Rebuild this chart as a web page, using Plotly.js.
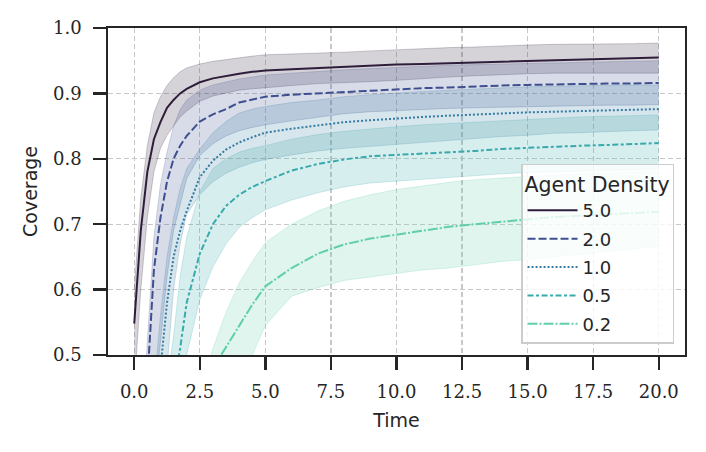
<!DOCTYPE html>
<html>
<head>
<meta charset="utf-8">
<script src="https://cdn.plot.ly/plotly-3.0.1.min.js"></script>
<style>
  html, body { margin: 0; padding: 0; background: #fff; }
  #graph { width: 706px; height: 452px; }
</style>
</head>
<body>
<div id="graph"></div>
<script>
// coverage over time, mean line with a spread band per agent density
const time = [0, 0.25, 0.5, 0.75, 1, 1.25, 1.5, 1.75, 2, 2.5, 3, 3.5, 4, 4.5, 5,
              6, 7, 8, 9, 10, 11, 12, 13, 14, 15, 16, 17, 18, 19, 20];

const densities = ['5.0', '2.0', '1.0', '0.5', '0.2'];

const mean50 = [0.548, 0.69, 0.78, 0.83, 0.856, 0.878, 0.89, 0.90, 0.907, 0.917, 0.923, 0.927, 0.930, 0.933, 0.935,
                0.937, 0.939, 0.941, 0.942, 0.944, 0.945, 0.946, 0.947, 0.948, 0.950, 0.951, 0.951, 0.952, 0.953, 0.955];
const hi50 = [0.60, 0.74, 0.82, 0.87, 0.895, 0.912, 0.924, 0.933, 0.939, 0.945, 0.949, 0.952, 0.955, 0.957, 0.959,
              0.960, 0.961, 0.963, 0.965, 0.967, 0.968, 0.970, 0.971, 0.973, 0.974, 0.975, 0.975, 0.976, 0.976, 0.977];
const lo50 = [0.45, 0.60, 0.71, 0.78, 0.816, 0.836, 0.85, 0.864, 0.873, 0.888, 0.896, 0.901, 0.905, 0.907, 0.909,
              0.912, 0.915, 0.916, 0.918, 0.920, 0.923, 0.925, 0.927, 0.929, 0.930, 0.931, 0.931, 0.931, 0.931, 0.931];

const mean20 = [0.20, 0.30, 0.46, 0.63, 0.71, 0.765, 0.80, 0.82, 0.835, 0.857, 0.868, 0.876, 0.886, 0.891, 0.895,
                0.898, 0.900, 0.903, 0.904, 0.906, 0.908, 0.909, 0.911, 0.912, 0.913, 0.914, 0.914, 0.915, 0.915, 0.916];
const hi20 = [0.25, 0.35, 0.52, 0.68, 0.76, 0.81, 0.85, 0.875, 0.89, 0.905, 0.913, 0.918, 0.922, 0.925, 0.928,
              0.931, 0.934, 0.936, 0.938, 0.940, 0.942, 0.943, 0.944, 0.945, 0.946, 0.947, 0.947, 0.948, 0.949, 0.950];
const lo20 = [0.10, 0.20, 0.30, 0.42, 0.52, 0.62, 0.69, 0.73, 0.77, 0.805, 0.823, 0.835, 0.843, 0.848, 0.852,
              0.858, 0.864, 0.869, 0.872, 0.874, 0.876, 0.877, 0.878, 0.879, 0.880, 0.881, 0.881, 0.882, 0.882, 0.883];

const mean10 = [0.10, 0.15, 0.20, 0.30, 0.48, 0.58, 0.65, 0.69, 0.72, 0.772, 0.797, 0.814, 0.825, 0.833, 0.840,
                0.846, 0.851, 0.856, 0.859, 0.862, 0.864, 0.866, 0.868, 0.869, 0.871, 0.872, 0.873, 0.874, 0.875, 0.876];
const hi10 = [0.15, 0.20, 0.30, 0.45, 0.56, 0.65, 0.71, 0.755, 0.785, 0.815, 0.84, 0.857, 0.870, 0.876, 0.880,
              0.886, 0.890, 0.895, 0.898, 0.901, 0.903, 0.905, 0.907, 0.908, 0.910, 0.911, 0.912, 0.912, 0.913, 0.913];
const lo10 = [0.05, 0.10, 0.15, 0.25, 0.38, 0.48, 0.60, 0.67, 0.715, 0.745, 0.765, 0.778, 0.787, 0.794, 0.799,
              0.806, 0.812, 0.816, 0.819, 0.823, 0.826, 0.829, 0.831, 0.834, 0.836, 0.839, 0.840, 0.842, 0.843, 0.844];

const mean05 = [0.05, 0.08, 0.12, 0.20, 0.30, 0.38, 0.45, 0.51, 0.58, 0.655, 0.70, 0.728, 0.745, 0.757, 0.766,
                0.782, 0.792, 0.799, 0.804, 0.806, 0.807, 0.809, 0.812, 0.815, 0.817, 0.819, 0.820, 0.821, 0.822, 0.824];
const hi05 = [0.10, 0.12, 0.18, 0.25, 0.35, 0.45, 0.53, 0.62, 0.68, 0.75, 0.785, 0.80, 0.81, 0.816, 0.82,
              0.83, 0.837, 0.842, 0.846, 0.849, 0.852, 0.854, 0.856, 0.858, 0.861, 0.863, 0.864, 0.865, 0.866, 0.867];
const lo05 = [0.02, 0.04, 0.08, 0.15, 0.22, 0.30, 0.37, 0.42, 0.50, 0.585, 0.635, 0.67, 0.695, 0.71, 0.722,
              0.737, 0.748, 0.757, 0.763, 0.766, 0.769, 0.772, 0.774, 0.777, 0.779, 0.780, 0.781, 0.782, 0.783, 0.784];

const mean02 = [0.30, 0.31, 0.32, 0.33, 0.34, 0.35, 0.36, 0.37, 0.40, 0.44, 0.48, 0.512, 0.545, 0.577, 0.605,
                0.633, 0.655, 0.669, 0.678, 0.684, 0.690, 0.696, 0.700, 0.704, 0.708, 0.711, 0.713, 0.715, 0.717, 0.719];
const hi02 = [0.30, 0.31, 0.32, 0.33, 0.34, 0.35, 0.36, 0.38, 0.40, 0.45, 0.51, 0.565, 0.61, 0.643, 0.672,
              0.70, 0.72, 0.735, 0.745, 0.753, 0.759, 0.764, 0.768, 0.771, 0.773, 0.775, 0.777, 0.778, 0.780, 0.781];
const lo02 = [0.20, 0.21, 0.22, 0.23, 0.24, 0.25, 0.26, 0.27, 0.28, 0.32, 0.36, 0.40, 0.44, 0.50, 0.545,
              0.59, 0.603, 0.614, 0.619, 0.625, 0.630, 0.633, 0.638, 0.643, 0.646, 0.650, 0.654, 0.658, 0.662, 0.666];

const means = [mean50, mean20, mean10, mean05, mean02];
const highs = [hi50, hi20, hi10, hi05, hi02];
const lows = [lo50, lo20, lo10, lo05, lo02];

// mako-like palette, seaborn style dashes
const colors = [[46, 30, 60], [62, 79, 143], [53, 123, 162], [56, 170, 172], [96, 206, 172]];
const dashes = ['solid', '8px,3px', '2px,2px', '6px,2.5px,3px,2.5px', '10px,2px,2px,2px'];

function rgba(c, a) {
    return `rgba(${c[0]},${c[1]},${c[2]},${a})`;
}

const traces = [];
densities.forEach((d, i) => {
    const c = colors[i];
    traces.push({
        x: time, y: lows[i], type: 'scatter', mode: 'lines',
        line: { color: rgba(c, 0.22), width: 1 },
        legendgroup: d, showlegend: false, hoverinfo: 'skip'
    });
    traces.push({
        x: time, y: highs[i], type: 'scatter', mode: 'lines',
        line: { color: rgba(c, 0.22), width: 1 },
        fill: 'tonexty', fillcolor: rgba(c, 0.2),
        legendgroup: d, showlegend: false, hoverinfo: 'skip'
    });
    traces.push({
        x: time, y: means[i], type: 'scatter', mode: 'lines', name: d,
        line: { color: rgba(c, 1), width: 2, dash: dashes[i] },
        legendgroup: d
    });
});

const tickFont = { family: 'DejaVu Serif', size: 18, color: '#262626' };
const labelFont = { family: 'DejaVu Sans', size: 19, color: '#262626' };

const layout = {
    width: 706,
    height: 452,
    margin: { l: 108, r: 21, t: 28, b: 97 },
    paper_bgcolor: '#fff',
    plot_bgcolor: '#fff',
    showlegend: true,
    xaxis: {
        range: [-1, 21],
        tickvals: [0, 2.5, 5, 7.5, 10, 12.5, 15, 17.5, 20],
        tickformat: '.1f',
        tickfont: tickFont,
        ticks: 'outside', ticklen: 13, tickwidth: 2.5, tickcolor: '#262626',
        ticklabelstandoff: 7,
        showline: true, linecolor: '#262626', linewidth: 1.7, mirror: true,
        showgrid: true, gridcolor: '#c8c8c8', gridwidth: 1.2, griddash: '5px,3px',
        zeroline: false,
        title: { text: 'Time', font: labelFont, standoff: 12 }
    },
    yaxis: {
        range: [0.5, 1.0],
        tickvals: [0.5, 0.6, 0.7, 0.8, 0.9, 1.0],
        tickformat: '.1f',
        tickfont: tickFont,
        ticks: 'outside', ticklen: 13, tickwidth: 2.5, tickcolor: '#262626',
        ticklabelstandoff: 8,
        showline: true, linecolor: '#262626', linewidth: 1.7, mirror: true,
        showgrid: true, gridcolor: '#c8c8c8', gridwidth: 1.2, griddash: '5px,3px',
        zeroline: false,
        title: { text: 'Coverage', font: labelFont, standoff: 10 }
    },
    legend: {
        x: 0.981, y: 0.034, xanchor: 'right', yanchor: 'bottom',
        bgcolor: 'rgba(255,255,255,0.8)',
        bordercolor: '#cccccc', borderwidth: 1.5,
        font: { family: 'DejaVu Sans', size: 18, color: '#262626' },
        title: { text: 'Agent Density', font: { family: 'DejaVu Sans', size: 20.5, color: '#262626' } },
        traceorder: 'grouped',
        tracegroupgap: 2,
        itemwidth: 50
    }
};

Plotly.newPlot('graph', traces, layout, { displayModeBar: false, staticPlot: true });
</script>
</body>
</html>
